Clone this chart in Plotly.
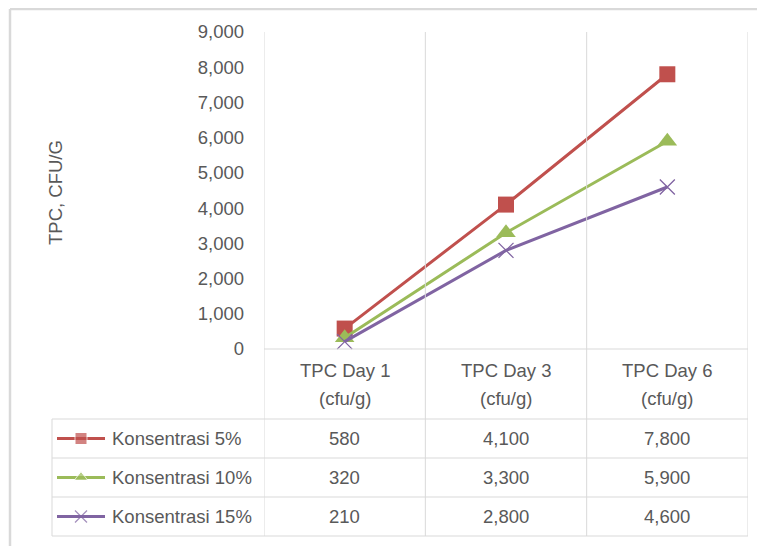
import plotly.graph_objects as go

# ---- data ----
categories = ["TPC Day 1", "TPC Day 3", "TPC Day 6"]
unit_label = "(cfu/g)"
series_names = ["Konsentrasi 5%", "Konsentrasi 10%", "Konsentrasi 15%"]
konsentrasi_5 = [580, 4100, 7800]
konsentrasi_10 = [320, 3300, 5900]
konsentrasi_15 = [210, 2800, 4600]
y_ticks = [0, 1000, 2000, 3000, 4000, 5000, 6000, 7000, 8000, 9000]
y_title = "TPC, CFU/G"

series_values = [konsentrasi_5, konsentrasi_10, konsentrasi_15]
colors = ["#C0504D", "#9BBB59", "#8064A2"]
symbols = ["square", "triangle-up", "x-thin"]
msizes = [16, 17, 15]
key_sizes = [12, 12, 12]

W, H = 765, 546
OFF = 8  # page body margin offset of the figure on screen
# plot area in screen pixels
PL, PR, PT, PB = 264, 748, 32, 349
# table geometry (screen pixels)
TBL_LEFT = 52
HDR_BOTTOM = 419
ROW_H = 39
ROW_CENTERS = [HDR_BOTTOM + ROW_H * (i + 0.5) for i in range(3)]
TBL_BOTTOM = HDR_BOTTOM + 3 * ROW_H

def px(x):
    return (x - OFF) / W

def py(y):
    return 1 - (y - OFF) / H

FONT = "Liberation Sans, Arial, sans-serif"
TXT = "#595959"
GRID = "#D9D9D9"
FS = 18.5

fig = go.Figure()

for name, vals, c, s, ms in zip(series_names, series_values, colors, symbols, msizes):
    marker = dict(symbol=s, size=ms, color=c)
    if s == "x-thin":
        marker["line"] = dict(width=1.3, color=c)
    fig.add_trace(go.Scatter(
        x=categories, y=vals, name=name, mode="lines+markers",
        line=dict(color=c, width=3), marker=marker, cliponaxis=False,
        showlegend=False, xaxis="x", yaxis="y"))

# legend keys inside the table (overlay pixel axis, screen coords)
for i, (name, c, s, ms) in enumerate(zip(series_names, colors, symbols, key_sizes)):
    marker = dict(symbol=s, size=[0, ms, 0], color=c)
    if s == "x-thin":
        marker["line"] = dict(width=1.3, color=c)
    yc = ROW_CENTERS[i]
    fig.add_trace(go.Scatter(
        x=[57, 81, 105], y=[yc, yc, yc], mode="lines+markers",
        line=dict(color=c, width=3), marker=marker, showlegend=False,
        hoverinfo="skip", xaxis="x2", yaxis="y2", cliponaxis=False))

shapes = []
# outer frame (top and left)
shapes.append(dict(type="line", xref="paper", yref="paper", x0=px(10), x1=px(W + 20),
                   y0=py(9), y1=py(9), line=dict(color=GRID, width=2.5)))
shapes.append(dict(type="line", xref="paper", yref="paper", x0=px(10), x1=px(10),
                   y0=py(9), y1=py(H + 20), line=dict(color=GRID, width=2.5)))
# vertical boundaries at category edges (through plot and table)
for k in range(len(categories) + 1):
    shapes.append(dict(type="line", xref="x", yref="paper", x0=k - 0.5, x1=k - 0.5,
                       y0=py(PT), y1=py(TBL_BOTTOM), line=dict(color=GRID, width=1)))
# x axis baseline / header top
shapes.append(dict(type="line", xref="paper", yref="paper", x0=px(PL), x1=px(PR),
                   y0=py(PB), y1=py(PB), line=dict(color=GRID, width=1)))
# table horizontal lines
for yy in [HDR_BOTTOM + ROW_H * i for i in range(4)]:
    shapes.append(dict(type="line", xref="paper", yref="paper", x0=px(TBL_LEFT), x1=px(PR),
                       y0=py(yy), y1=py(yy), line=dict(color=GRID, width=1)))
# table left edge
shapes.append(dict(type="line", xref="paper", yref="paper", x0=px(TBL_LEFT), x1=px(TBL_LEFT),
                   y0=py(HDR_BOTTOM), y1=py(TBL_BOTTOM), line=dict(color=GRID, width=1)))

annotations = []
# header labels
for cat in categories:
    annotations.append(dict(x=cat, xref="x", y=py(370), yref="paper", text=cat,
                            showarrow=False, font=dict(family=FONT, size=FS, color=TXT),
                            xanchor="center", yanchor="middle"))
    annotations.append(dict(x=cat, xref="x", y=py(398), yref="paper", text=unit_label,
                            showarrow=False, font=dict(family=FONT, size=FS, color=TXT),
                            xanchor="center", yanchor="middle"))
# table values and row names
for i, (name, vals) in enumerate(zip(series_names, series_values)):
    yc = ROW_CENTERS[i]
    annotations.append(dict(x=px(110), xref="paper", y=py(yc), yref="paper", text=name,
                            showarrow=False, font=dict(family=FONT, size=FS, color=TXT),
                            xanchor="left", yanchor="middle"))
    for cat, v in zip(categories, vals):
        annotations.append(dict(x=cat, xref="x", y=py(yc), yref="paper", text=f"{v:,}",
                                showarrow=False, font=dict(family=FONT, size=FS, color=TXT),
                                xanchor="center", yanchor="middle"))
# y axis title
annotations.append(dict(x=px(55), xref="paper", y=py(193), yref="paper", text=y_title,
                        textangle=-90, showarrow=False,
                        font=dict(family=FONT, size=FS, color=TXT),
                        xanchor="center", yanchor="middle"))

fig.update_layout(
    width=W, height=H,
    margin=dict(l=0, r=0, t=0, b=0, pad=0, autoexpand=False),
    paper_bgcolor="white", plot_bgcolor="rgba(0,0,0,0)",
    font=dict(family=FONT, size=FS, color=TXT),
    xaxis=dict(domain=[px(PL), px(PR)], type="category", range=[-0.5, 2.5],
               showticklabels=False, showgrid=False, zeroline=False, showline=False,
               ticks="", anchor="y", automargin=False),
    yaxis=dict(domain=[py(PB), py(PT)], range=[0, 9000], tickvals=y_ticks,
               tickformat=",", showgrid=False, zeroline=False, showline=False,
               ticks="", ticklabelstandoff=19, anchor="x", automargin=False,
               tickfont=dict(family=FONT, size=FS, color=TXT)),
    xaxis2=dict(domain=[0, 1], range=[OFF, W + OFF], visible=False, anchor="y2",
                fixedrange=True, automargin=False),
    yaxis2=dict(domain=[0, 1], range=[H + OFF, OFF], visible=False, anchor="x2",
                fixedrange=True, automargin=False),
    shapes=shapes,
    annotations=annotations,
    showlegend=False,
)

fig.write_html("out.html")
